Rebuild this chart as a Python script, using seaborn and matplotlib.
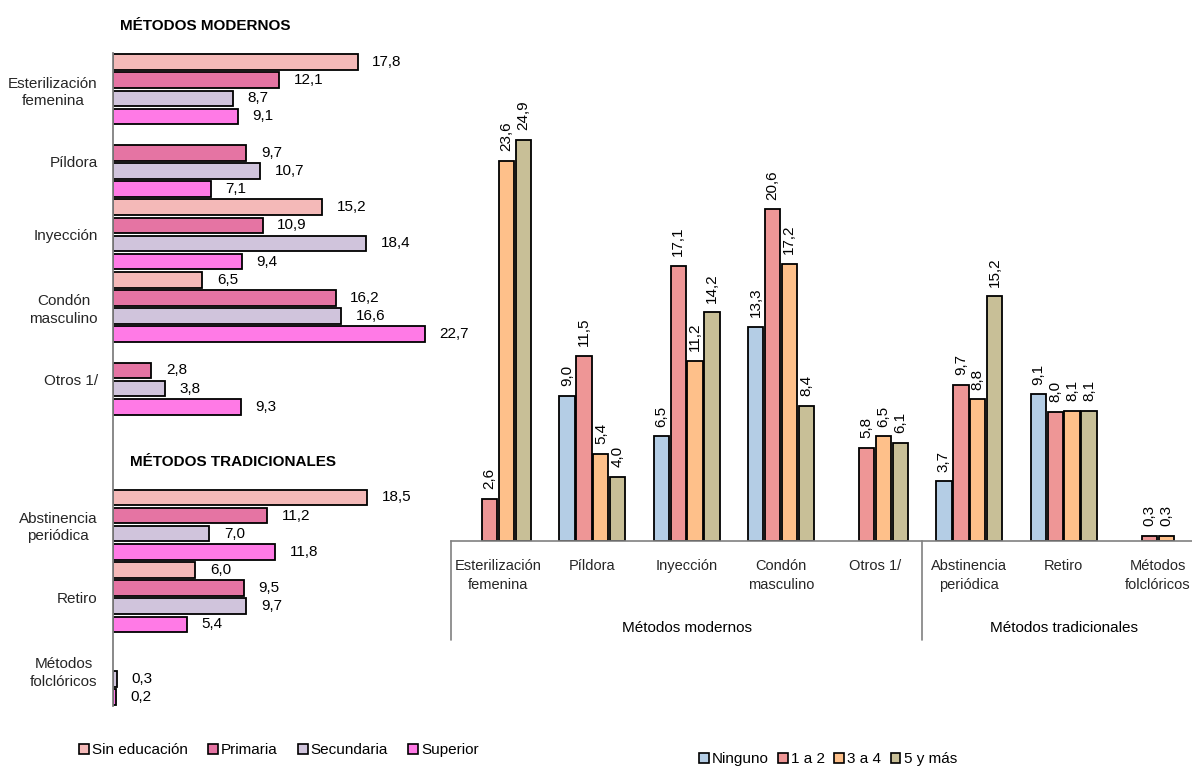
import numpy as np
import pandas as pd
import matplotlib
matplotlib.use("Agg")
import matplotlib.pyplot as plt
import matplotlib.transforms as mtransforms
from matplotlib.patches import Patch
from matplotlib import font_manager as fm
import seaborn as sns

# ---------------- data ----------------
left_categories = ["Esterilización\nfemenina", "Píldora", "Inyección", "Condón\nmasculino",
                   "Otros 1/", " ", "Abstinencia\nperiódica", "Retiro", "Métodos\nfolclóricos"]
education_levels = ["Sin educación", "Primaria", "Secundaria", "Superior"]
sin_educacion = [17.8, np.nan, 15.2, 6.5, np.nan, np.nan, 18.5, 6.0, np.nan]
primaria      = [12.1, 9.7, 10.9, 16.2, 2.8, np.nan, 11.2, 9.5, np.nan]
secundaria    = [8.7, 10.7, 18.4, 16.6, 3.8, np.nan, 7.0, 9.7, 0.3]
superior      = [9.1, 7.1, 9.4, 22.7, 9.3, np.nan, 11.8, 5.4, 0.2]

right_categories = ["Esterilización\nfemenina", "Píldora", "Inyección", "Condón\nmasculino",
                    "Otros 1/", "Abstinencia\nperiódica", "Retiro", "Métodos\nfolclóricos"]
right_groups = ["Métodos modernos", "Métodos tradicionales"]
children_levels = ["Ninguno", "1 a 2", "3 a 4", "5 y más"]
ninguno       = [np.nan, 9.0, 6.5, 13.3, np.nan, 3.7, 9.1, np.nan]
uno_a_dos     = [2.6, 11.5, 17.1, 20.6, 5.8, 9.7, 8.0, 0.3]
tres_a_cuatro = [23.6, 5.4, 11.2, 17.2, 6.5, 8.8, 8.1, 0.3]
cinco_y_mas   = [24.9, 4.0, 14.2, 8.4, 6.1, 15.2, 8.1, np.nan]

left_title_1 = "MÉTODOS MODERNOS"
left_title_2 = "MÉTODOS TRADICIONALES"

left_colors = ["#F4B9B8", "#E574A3", "#D0C4DC", "#FF7AE6"]
right_colors = ["#B4CDE5", "#EE9696", "#FEC08A", "#C8BF97"]

# ---------------- style ----------------
sns.set_style("white")
names = {f.name for f in fm.fontManager.ttflist}
if "Liberation Sans Narrow" in names:
    FONT = ["Liberation Sans Narrow", "DejaVu Sans"]
    FS = 12
    FS_CAT = 12
else:
    FONT = ["Liberation Sans", "DejaVu Sans"]
    FS = 11
    FS_CAT = 10.5
plt.rcParams["font.family"] = FONT
plt.rcParams["text.color"] = "black"

W, H = 1192, 767
fig = plt.figure(figsize=(W / 100, H / 100), dpi=100)


def fx(px):
    return px / W


def fy(py):
    return 1 - py / H


def fmt_val(v):
    return f"{v:.1f}".replace(".", ",")


# ---------------- left panel ----------------
left_df = pd.DataFrame({
    "metodo": left_categories * 4,
    "nivel": np.repeat(education_levels, len(left_categories)),
    "valor": sin_educacion + primaria + secundaria + superior,
})

xmax_left = 25
axL = fig.add_axes([fx(113), fy(706), fx(xmax_left * 13.74), (706 - 53) / H])
axL.patch.set_visible(False)
sns.barplot(data=left_df, y="metodo", x="valor", hue="nivel", order=left_categories,
            hue_order=education_levels, palette=left_colors, saturation=1, orient="h",
            width=1.0, gap=0.14, errorbar=None, edgecolor="black", linewidth=1.3, ax=axL,
            legend=False)
axL.set_xlim(0, xmax_left)
axL.set_ylim(len(left_categories) - 0.5, -0.5)
for c in axL.containers:
    lbls = axL.bar_label(c, fmt=fmt_val, padding=10.5, fontsize=FS)
    for t in lbls:
        t.set_clip_on(False)
for s in ["top", "right", "bottom"]:
    axL.spines[s].set_visible(False)
axL.spines["left"].set_color("#808080")
axL.spines["left"].set_linewidth(1.3)
axL.set_xticks([])
axL.set_xlabel("")
axL.set_ylabel("")
axL.set_yticks(range(len(left_categories)))
axL.set_yticklabels(left_categories, fontsize=FS_CAT + 0.5, multialignment="center",
                    linespacing=1.3)
axL.set_yticks(np.arange(-0.5, len(left_categories), 1.0), minor=True)
axL.tick_params(axis="y", which="major", length=0, pad=11)
axL.tick_params(axis="y", which="minor", length=4.5, width=1.3, color="#808080", direction="out")

fig.text(fx(120), fy(26), left_title_1, fontsize=FS, fontweight="bold", ha="left", va="center")
fig.text(fx(130), fy(462), left_title_2, fontsize=FS, fontweight="bold", ha="left", va="center")

# ---------------- right panel ----------------
right_df = pd.DataFrame({
    "metodo": right_categories * 4,
    "hijos": np.repeat(children_levels, len(right_categories)),
    "valor": ninguno + uno_a_dos + tres_a_cuatro + cinco_y_mas,
})

ymax_right = 27
ax_h_px = ymax_right * 16.1
axR = fig.add_axes([fx(451), fy(541), fx(1205 - 451), ax_h_px / H])
axR.patch.set_visible(False)
sns.barplot(data=right_df, x="metodo", y="valor", hue="hijos", order=right_categories,
            hue_order=children_levels, palette=right_colors, saturation=1, width=0.72,
            gap=0.1, errorbar=None, edgecolor="black", linewidth=1.3, ax=axR, legend=False)
axR.set_ylim(0, ymax_right)
axR.set_xlim(-0.5, len(right_categories) - 0.5)
for c in axR.containers:
    lbls = axR.bar_label(c, fmt=fmt_val, padding=7, fontsize=FS, rotation=90)
    for t in lbls:
        t.set_clip_on(False)
for s in ["top", "right", "left"]:
    axR.spines[s].set_visible(False)
axR.spines["bottom"].set_color("#808080")
axR.spines["bottom"].set_linewidth(1.2)
axR.set_yticks([])
axR.set_xlabel("")
axR.set_ylabel("")
axR.set_xticks(range(len(right_categories)))
axR.set_xticklabels(right_categories, fontsize=FS_CAT, multialignment="center",
                    linespacing=1.45)
axR.set_xticks(np.arange(-0.5, len(right_categories), 1.0), minor=True)
axR.tick_params(axis="x", which="major", length=0, pad=13)
axR.tick_params(axis="x", which="minor", length=45, width=1.2, color="#808080", direction="out")

trans = mtransforms.blended_transform_factory(axR.transData, axR.transAxes)
group_bounds = [-0.5, 4.5, len(right_categories) - 0.5]
long_depth = -(640 - 541) / ax_h_px
for xb in group_bounds:
    axR.plot([xb, xb], [0, long_depth], transform=trans, color="#808080", lw=1.2, clip_on=False)
label_y = -(628 - 541) / ax_h_px
for gi, g in enumerate(right_groups):
    xc = (group_bounds[gi] + group_bounds[gi + 1]) / 2
    axR.text(xc, label_y, g, transform=trans, ha="center", va="center", fontsize=FS)

# ---------------- legends ----------------
hl = [Patch(facecolor=c, edgecolor="black", linewidth=1.2) for c in left_colors]
fig.legend(hl, education_levels, loc="center", bbox_to_anchor=(fx(279), fy(750)), ncol=4,
           frameon=False, handlelength=0.65, handleheight=0.65, handletextpad=0.2,
           columnspacing=1.3, fontsize=FS, borderaxespad=0, borderpad=0)
hr = [Patch(facecolor=c, edgecolor="black", linewidth=1.2) for c in right_colors]
fig.legend(hr, children_levels, loc="center", bbox_to_anchor=(fx(828), fy(759)), ncol=4,
           frameon=False, handlelength=0.65, handleheight=0.65, handletextpad=0.2,
           columnspacing=0.6, fontsize=FS, borderaxespad=0, borderpad=0)

fig.savefig("out.png", dpi=100)
